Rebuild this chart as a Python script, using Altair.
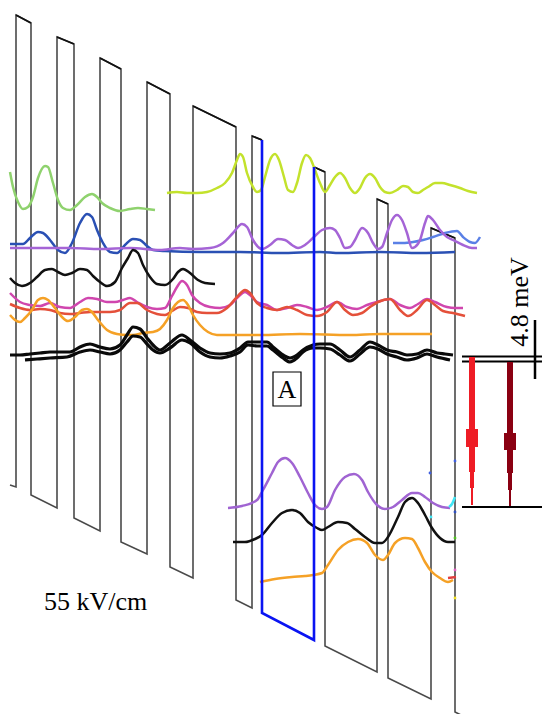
import altair as alt
import pandas as pd

# ---------------- data (position along growth axis, energy axis; drawn through linear scales)
BAND_LEFT = [(10,485),(16,487),(16,15),(31,23),(31,495),(57,508),(57,37),(74,44),(74,518),(100,531),
             (100,58),(121,69),(121,542),(147,554),(147,82),(170,94),(170,567),(193,578),(193,106),
             (236,127),(236,600),(252,608),(252,136),(262,140)]
BAND_RIGHT = [(314,167),(325,172),(325,646),(377,672),(377,199),(388,204),(388,678),(431,699),
              (431,228),(455,238),(455,712),(475,722)]
WELL_A = [(262,140),(262,613),(314,640),(314,167)]

LIGHT_GREEN = [(10,172),(13,187),(18,202),(23,209),(28,207),(33,197),(38,178),(45,166),(48,167),(53,183),
               (58,200),(63,208),(70,210),(77,205),(85,197),(92,194),(97,197),(102,203),(110,208),
               (120,211),(130,209),(138,208),(147,209),(155,210)]
YELLOW_GREEN = [(167,193),(177,192),(187,193),(197,193),(207,192),(217,188),(225,183),(232,173),(237,160),
                (240,154),(243,157),(247,173),(253,187),(257,192),(261,190),(265,177),(270,160),(275,154),
                (279,160),(284,177),(288,190),(293,192),(297,183),(302,163),(306,155),(310,158),(315,170),
                (320,183),(325,192),(330,185),(335,177),(340,173),(345,178),(350,188),(355,193),(360,188),
                (365,178),(370,174),(375,178),(380,187),(385,192),(390,193),(397,190),(403,186),(408,187),
                (413,192),(418,193),(423,190),(428,187),(435,183),(442,183),(450,185),(460,188),(468,191),
                (477,193)]
BLUE = [(10,244),(23,244),(30,238),(38,232),(43,233),(50,240),(58,250),(65,253),(72,243),(80,223),(87,214),
        (92,217),(97,230),(103,243),(110,252),(117,253),(125,245),(133,239),(140,240),(147,246),(153,250),
        (165,251),(200,252),(240,252),(280,253),(320,252),(340,253),(380,252),(420,253),(455,252)]
LIGHT_BLUE = [(393,243),(403,243),(413,242),(423,240),(433,237),(445,233),(457,231),(463,237),(470,242),
              (475,243),(480,237)]
PURPLE = [(10,248),(40,248),(70,248),(100,249),(130,248),(160,250),(180,248),(193,249),(210,248),(223,243),
          (233,233),(242,224),(247,227),(253,240),(262,249),(270,245),(278,239),(285,240),(292,245),(298,248),
          (305,245),(315,236),(322,230),(330,228),(335,230),(340,238),(345,248),(350,247),(355,240),(362,228),
          (368,233),(373,243),(378,249),(382,247),(387,233),(392,220),(397,215),(402,220),(407,233),(412,248),
          (415,247),(420,240),(425,223),(428,216),(433,220),(440,230),(447,237),(453,240),(463,245),(472,248),
          (477,248)]
BLACK_TOP = [(10,278),(15,283),(22,286),(30,283),(37,277),(45,270),(52,269),(58,272),(65,275),(72,273),(80,269),
             (87,270),(93,276),(100,282),(107,286),(115,282),(122,268),(128,258),(133,250),(138,253),(143,265),
             (150,277),(157,284),(165,285),(173,279),(178,272),(183,269),(190,273),(198,280),(205,283),(215,284)]
MAGENTA = [(10,293),(20,302),(30,305),(40,306),(50,303),(60,307),(70,308),(80,302),(88,298),(97,299),(107,302),
           (115,302),(123,300),(130,298),(137,302),(147,307),(157,309),(165,308),(172,296),(177,287),(182,281),
           (187,285),(192,295),(200,303),(210,307),(220,308),(230,305),(238,297),(245,292),(250,295),(257,302),
           (267,305),(277,310),(287,308),(297,305),(307,307),(317,310),(327,307),(337,302),(347,307),(357,309),
           (367,305),(377,302),(390,299),(400,305),(410,308),(418,304),(427,299),(435,302),(447,307),(455,308),
           (463,308)]
RED = [(10,304),(20,308),(30,310),(40,309),(50,310),(60,313),(70,314),(80,313),(90,312),(100,312),(110,312),
       (120,310),(130,303),(137,303),(147,310),(157,314),(165,315),(172,311),(180,307),(188,308),(197,312),
       (207,313),(217,313),(227,308),(237,297),(245,290),(250,293),(257,303),(267,308),(277,310),(287,307),
       (297,310),(307,315),(317,316),(327,312),(337,302),(345,310),(353,315),(362,313),(370,307),(378,302),
       (390,299),(400,310),(408,316),(417,310),(427,300),(435,305),(443,311),(453,313),(465,316)]
ORANGE = [(10,315),(15,320),(20,322),(25,318),(32,310),(38,300),(43,298),(48,300),(55,308),(62,317),(68,321),
          (75,317),(82,310),(87,309),(92,312),(98,320),(107,330),(117,334),(127,335),(133,335),(143,333),
          (153,332),(160,329),(167,320),(173,308),(178,302),(183,300),(188,305),(193,315),(200,325),(208,332),
          (217,335),(260,335),(300,334),(350,335),(380,334),(432,334)]
DOUBLE_A = [(10,355),(20,355),(30,354),(40,353),(50,352),(60,352),(70,352),(80,347),(90,344),(100,347),
            (110,349),(120,345),(127,335),(133,327),(140,329),(147,338),(153,345),(160,350),(170,343),
            (182,335),(190,340),(200,348),(210,353),(220,354),(230,353),(240,348),(248,342),(257,342),
            (267,342),(273,347),(283,355),(290,358),(297,355),(303,350),(313,345),(320,344),(330,344),
            (340,350),(350,357),(360,350),(370,342),(378,345),(387,350),(397,352),(407,355),(417,354),
            (427,350),(437,353),(445,354),(453,355)]
DOUBLE_B = [(25,360),(37,359),(50,358),(67,357),(80,352),(90,350),(100,352),(110,354),(120,350),(127,342),
            (133,336),(140,337),(147,344),(153,350),(160,353),(170,348),(182,340),(190,343),(200,352),
            (210,357),(220,358),(230,356),(240,352),(248,345),(257,346),(267,346),(273,350),(283,358),
            (290,362),(297,358),(303,352),(313,348),(320,348),(330,349),(340,355),(350,361),(360,354),
            (370,347),(378,349),(387,354),(397,357),(407,360),(417,358),(427,354),(437,357),(450,360)]
LOW_PURPLE = [(228,508),(242,506),(257,500),(263,490),(272,473),(278,462),(285,458),(292,463),(300,477),
              (308,493),(315,505),(322,509),(327,507),(335,490),(345,477),(354,474),(362,480),(368,492),
              (377,505),(385,509),(393,507),(402,500),(412,493),(418,493),(425,497),(433,503),(442,507),
              (450,508)]
LOW_BLACK = [(233,542),(245,542),(255,539),(262,535),(272,523),(282,513),(292,510),(300,513),(308,522),
             (317,528),(322,530),(328,527),(338,522),(347,523),(355,529),(365,537),(375,543),(382,543),
             (388,537),(398,517),(405,502),(412,498),(418,503),(425,515),(432,528),(440,538),(448,542),
             (455,542)]
LOW_ORANGE = [(260,582),(275,579),(292,577),(305,576),(313,575),(322,573),(328,565),(338,550),(348,542),
              (358,539),(367,543),(375,555),(383,560),(388,555),(395,543),(405,538),(412,539),(418,548),
              (425,562),(432,572),(440,578),(448,582),(453,580)]
CYAN_END = [(449,507),(452,504),(455,497)]
RED_END = [(448,578),(456,577)]

CURVE_NAMES = ["light_green","yellow_green","blue","light_blue","purple","black_top","magenta","red","orange",
               "low_purple","low_black","low_orange","cyan_end","red_end"]
CURVE_COLORS = ["#8fd26e","#c3e22c","#2a50b4","#5a80e6","#a564d6","#111111","#d046ae","#e4503a","#f5a126",
                "#a064d2","#111111","#f5a126","#40e6f5","#e04040"]
CURVE_POINTS = [LIGHT_GREEN, YELLOW_GREEN, BLUE, LIGHT_BLUE, PURPLE, BLACK_TOP, MAGENTA, RED, ORANGE,
                LOW_PURPLE, LOW_BLACK, LOW_ORANGE, CYAN_END, RED_END]

# level lines / scale bar on the right
LEVEL_Y = [356.5, 361.5, 507]
LEVEL_X0 = 462
LEVEL_X1 = 542
SCALE_BAR = (535, 320, 379)

# arrow segments: x, y_top, y_bottom, width, colour-key
ARROWS = [
    (472, 357, 430, 6, "r"), (472, 429, 447, 12, "r"), (472, 446, 472, 6, "r"),
    (472, 471, 488, 4, "r"), (472, 487, 505, 2, "r"),
    (510, 362, 434, 6, "d"), (510, 433, 450, 12, "d"), (510, 449, 473, 6, "d"),
    (510, 472, 490, 4, "d"), (510, 489, 506, 2, "d"),
]
ARROW_COLORS = {"r": "#ee1c25", "d": "#8a0012"}

DOTS = [(455,461,"#4060e0"),(430,473,"#4060e0"),(431,517,"#40e6f5"),(455,512,"#3050c0"),
        (455,538,"#50c020"),(455,570,"#e060c0"),(455,598,"#f0e020")]

LABELS = [("55 kV/cm", 44, 610), ("A", 287, 398)]
ENERGY_LABEL = ("4.8 meV", 528, 302)
BOX_A = (273, 301, 372, 406)

# ---------------- build tables
def table(points, name):
    return pd.DataFrame({"x": [p[0] for p in points], "y": [p[1] for p in points],
                         "i": list(range(len(points))), "name": name})

XS = alt.Scale(domain=[8, 542], nice=False, zero=False)
YS = alt.Scale(domain=[8, 714], nice=False, zero=False, reverse=True)

def xy():
    return dict(x=alt.X("x:Q", scale=XS, axis=None), y=alt.Y("y:Q", scale=YS, axis=None))

band_df = pd.concat([table(BAND_LEFT, "b1"), table(BAND_RIGHT, "b2")])
band = alt.Chart(band_df).mark_line(color="#4a4a4a", strokeWidth=1.6, clip=True).encode(
    **xy(), detail="name:N", order="i:Q")

# barrier tops (consecutive band points at different x in the upper half), drawn darker
tops = []
for seq in (BAND_LEFT, BAND_RIGHT):
    for k in range(len(seq) - 1):
        (xa, ya), (xb, yb) = seq[k], seq[k + 1]
        if xa != xb and ya < 300 and yb < 300:
            tops.append({"x": xa, "y": ya, "x2": xb, "y2": yb})
tops_df = pd.DataFrame(tops)
tops_layer = alt.Chart(tops_df).mark_rule(color="#111", strokeWidth=1.8).encode(
    **xy(), x2="x2:Q", y2="y2:Q")

wf_df = pd.concat([table(p, n) for p, n in zip(CURVE_POINTS, CURVE_NAMES)])
wf = alt.Chart(wf_df).mark_line(strokeWidth=2.5, interpolate="monotone", clip=True).encode(
    **xy(), detail="name:N", order="i:Q",
    color=alt.Color("name:N", scale=alt.Scale(domain=CURVE_NAMES, range=CURVE_COLORS), legend=None))

dbl_df = pd.concat([table(DOUBLE_A, "da"), table(DOUBLE_B, "db")])
dbl = alt.Chart(dbl_df).mark_line(strokeWidth=3.2, color="#0a0a0a", interpolate="monotone", clip=True).encode(
    **xy(), detail="name:N", order="i:Q")

well = alt.Chart(table(WELL_A, "A")).mark_line(color="#0a14f2", strokeWidth=2.6, clip=True).encode(
    **xy(), order="i:Q")

lev_df = pd.DataFrame({"x": [LEVEL_X0]*len(LEVEL_Y), "x2": [LEVEL_X1]*len(LEVEL_Y), "y": LEVEL_Y})
levels = alt.Chart(lev_df).mark_rule(color="#000", strokeWidth=2).encode(**xy(), x2="x2:Q")

bar_df = pd.DataFrame({"x": [SCALE_BAR[0]], "y": [SCALE_BAR[1]], "y2": [SCALE_BAR[2]]})
sbar = alt.Chart(bar_df).mark_rule(color="#000", strokeWidth=2.5).encode(**xy(), y2="y2:Q")

arr_df = pd.DataFrame({"x": [a[0] for a in ARROWS], "y": [a[1] for a in ARROWS], "y2": [a[2] for a in ARROWS],
                       "w": [a[3] for a in ARROWS], "c": [ARROW_COLORS[a[4]] for a in ARROWS]})
arrows = alt.Chart(arr_df).mark_rule(strokeCap="butt").encode(
    **xy(), y2="y2:Q", strokeWidth=alt.StrokeWidth("w:Q", scale=None), color=alt.Color("c:N", scale=None))

dot_df = pd.DataFrame({"x": [d[0] for d in DOTS], "y": [d[1] for d in DOTS], "c": [d[2] for d in DOTS]})
dots = alt.Chart(dot_df).mark_point(filled=True, size=8, opacity=1).encode(
    **xy(), color=alt.Color("c:N", scale=None))

box_df = pd.DataFrame({"x": [BOX_A[0]], "x2": [BOX_A[1]], "y": [BOX_A[2]], "y2": [BOX_A[3]]})
box = alt.Chart(box_df).mark_rect(fill="white", stroke="#000", strokeWidth=1.2).encode(
    **xy(), x2="x2:Q", y2="y2:Q")

lab_df = pd.DataFrame({"x": [LABELS[0][1]], "y": [LABELS[0][2]], "t": [LABELS[0][0]]})
lab = alt.Chart(lab_df).mark_text(font="Liberation Serif", fontSize=26, align="left",
                                  baseline="alphabetic", color="#000").encode(**xy(), text="t:N")
a_df = pd.DataFrame({"x": [LABELS[1][1]], "y": [LABELS[1][2]], "t": [LABELS[1][0]]})
alab = alt.Chart(a_df).mark_text(font="Liberation Serif", fontSize=26, align="center",
                                 baseline="alphabetic", color="#000").encode(**xy(), text="t:N")
e_df = pd.DataFrame({"x": [ENERGY_LABEL[1]], "y": [ENERGY_LABEL[2]], "t": [ENERGY_LABEL[0]]})
elab = alt.Chart(e_df).mark_text(font="Liberation Serif", fontSize=26, align="center", angle=270,
                                 baseline="alphabetic", color="#000").encode(**xy(), text="t:N")

chart = alt.layer(band, tops_layer, wf, dbl, well, levels, sbar, arrows, dots, box, lab, alab, elab).properties(
    width=534, height=706, padding=0, autosize="none"
).configure_view(stroke=None)

chart.save("out.html", embed_options={"renderer": "svg", "actions": False})
